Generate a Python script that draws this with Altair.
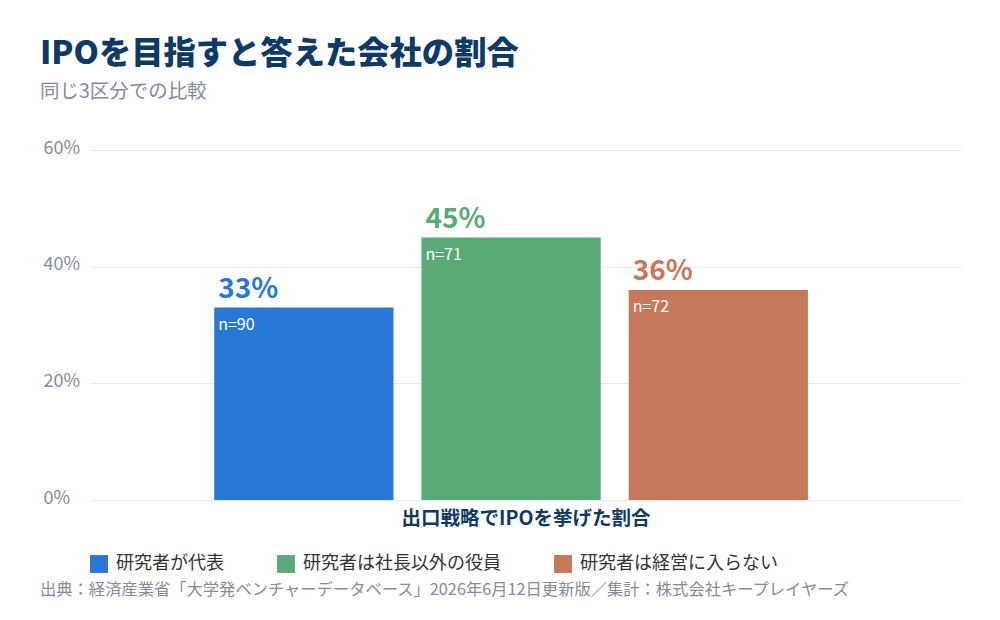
import altair as alt
import pandas as pd

# DATA ---------------------------------------------------
groups = ['研究者が代表', '研究者は社長以外の役員', '研究者は経営に入らない']
rates = [0.33, 0.45, 0.36]
n_values = [90, 71, 72]
bar_colors = ['#2a78d6', '#5aaa77', '#c6785a']
y_ticks = [0, 0.2, 0.4, 0.6]

title_text = 'IPOを目指すと答えた会社の割合'
subtitle_text = '同じ3区分での比較'
x_title = '出口戦略でIPOを挙げた割合'
source_text = '出典：経済産業省「大学発ベンチャーデータベース」2026年6月12日更新版／集計：株式会社キープレイヤーズ'

df = pd.DataFrame({
    'group': groups,
    'rate': rates,
    'n': n_values,
    'bar_color': bar_colors,
})

FONT = 'Noto Sans CJK JP'

x_scale = alt.Scale(domain=groups, paddingInner=0.135, paddingOuter=0.669, align=0.448)
y_scale = alt.Scale(domain=[0, 0.6])

# PLOTTING ----------------------------------------------
base = alt.Chart(df)

bars = base.mark_bar().encode(
    x=alt.X('group:N', scale=x_scale, sort=groups,
            axis=alt.Axis(labels=False, ticks=False, domain=False, grid=False,
                          title=x_title, titleFont=FONT, titleFontSize=19.5,
                          titleFontWeight='bold', titleColor='#0e3a66', titlePadding=9)),
    y=alt.Y('rate:Q', scale=y_scale,
            axis=alt.Axis(values=y_ticks, format='.0%', title=None, ticks=False, tickSize=0,
                          domain=False, gridColor='#e6e8ee', labelFont=FONT, labelFontSize=18,
                          labelColor='#858b99', labelAlign='left', labelPadding=47,
                          labelBaseline='middle', labelOffset=-2)),
    color=alt.Color('group:N', sort=groups,
                    scale=alt.Scale(domain=groups, range=bar_colors),
                    legend=alt.Legend(title=None, orient='none', legendX=0, legendY=405,
                                      direction='horizontal', symbolType='square',
                                      symbolSize=320, symbolStrokeWidth=0, symbolOpacity=1,
                                      labelFont=FONT, labelFontSize=18, labelColor='#333333',
                                      labelOffset=8, columnPadding=53, labelLimit=400)),
)

pct_labels = base.mark_text(
    align='left', baseline='bottom', dx=4, dy=-4,
    font=FONT, fontSize=28, fontWeight='bold'
).encode(
    x=alt.X('group:N', scale=x_scale, sort=groups, bandPosition=0),
    y=alt.Y('rate:Q', scale=y_scale),
    text=alt.Text('rate:Q', format='.0%'),
    color=alt.Color('bar_color:N', scale=None),
)

n_labels = base.mark_text(
    align='left', baseline='top', dx=4, dy=9,
    font=FONT, fontSize=16, color='white'
).encode(
    x=alt.X('group:N', scale=x_scale, sort=groups, bandPosition=0),
    y=alt.Y('rate:Q', scale=y_scale),
    text='n_label:N',
).transform_calculate(
    n_label="'n=' + datum.n"
)

source = alt.Chart(pd.DataFrame({'t': [source_text]})).mark_text(
    align='left', baseline='middle', font=FONT, fontSize=16.3, color='#858b99'
).encode(
    x=alt.value(-50), y=alt.value(440), text='t:N'
)

chart = (bars + pct_labels + n_labels + source).properties(
    width=871, height=350,
    autosize=alt.AutoSizeParams(type='none'),
    padding={'left': 82, 'top': 142, 'right': 30, 'bottom': 100},
    title=alt.TitleParams(
        text=title_text, subtitle=subtitle_text, anchor='start', frame='group',
        dx=-50, offset=38, font=FONT, fontSize=32.3, fontWeight=900, color='#0e3a66',
        subtitleFont=FONT, subtitleFontSize=19.5, subtitleColor='#858b99', subtitlePadding=12,
    ),
).configure(background='white').configure_view(stroke=None)

chart.save('out.html', embed_options={'renderer': 'svg', 'actions': False})
